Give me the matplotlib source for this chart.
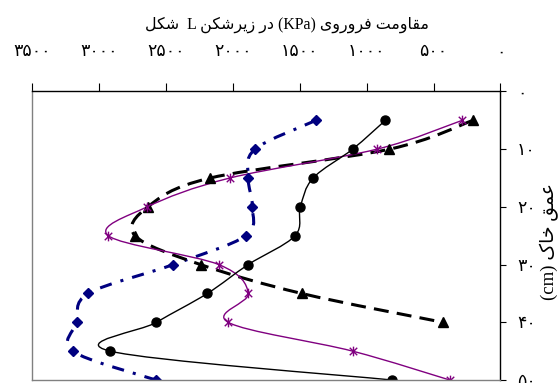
import numpy as np
import matplotlib
matplotlib.use('Agg')
import matplotlib.pyplot as plt
from matplotlib.path import Path
from matplotlib.patches import PathPatch

# soil depth (cm) for each reading
depth = [5, 10, 15, 20, 25, 30, 35, 40, 45, 50]

# cone index (KPa) per treatment
circle_kpa = [860, 1105, 1400, 1495, 1535, 1885, 2190, 2570, 2915, 810]
triangle_kpa = [205, 830, 2170, 2635, 2730, 2240, 1485, 430]
star_kpa = [286, 924, 2023, 2640, 2929, 2104, 1884, 2034, 1104, 379]
diamond_kpa = [1378, 1834, 1884, 1854, 1904, 2446, 3079, 3166, 3196, 2574]

x_ticks = [0, 500, 1000, 1500, 2000, 2500, 3000, 3500]
y_ticks = [0, 10, 20, 30, 40, 50]

title_text = 'مقاومت فروروی (KPa) در زیرشکن L  شکل'
ylabel_text = 'عمق خاک (cm)'

# arabic letter forms: isolated, final, initial, medial
FORMS = {
    'ا': ('\uFE8D', '\uFE8E', None, None),
    'د': ('\uFEA9', '\uFEAA', None, None),
    'ر': ('\uFEAD', '\uFEAE', None, None),
    'ز': ('\uFEAF', '\uFEB0', None, None),
    'و': ('\uFEED', '\uFEEE', None, None),
    'ت': ('\uFE95', '\uFE96', '\uFE97', '\uFE98'),
    'خ': ('\uFEA5', '\uFEA6', '\uFEA7', '\uFEA8'),
    'ش': ('\uFEB5', '\uFEB6', '\uFEB7', '\uFEB8'),
    'ع': ('\uFEC9', '\uFECA', '\uFECB', '\uFECC'),
    'ف': ('\uFED1', '\uFED2', '\uFED3', '\uFED4'),
    'ق': ('\uFED5', '\uFED6', '\uFED7', '\uFED8'),
    'ل': ('\uFEDD', '\uFEDE', '\uFEDF', '\uFEE0'),
    'م': ('\uFEE1', '\uFEE2', '\uFEE3', '\uFEE4'),
    'ن': ('\uFEE5', '\uFEE6', '\uFEE7', '\uFEE8'),
    'ی': ('\uFBFC', '\uFBFD', '\uFBFE', '\uFBFF'),
    'ک': ('\uFB8E', '\uFB8F', '\uFB90', '\uFB91'),
}


def shape_word(word):
    out = []
    for i, ch in enumerate(word):
        if ch not in FORMS:
            out.append(ch)
            continue
        iso, fin, ini, med = FORMS[ch]
        prev = word[i - 1] if i > 0 else None
        nxt = word[i + 1] if i + 1 < len(word) else None
        joins_prev = prev in FORMS and FORMS[prev][2] is not None
        joins_next = nxt in FORMS and ini is not None
        if joins_prev and joins_next:
            out.append(med)
        elif joins_prev:
            out.append(fin)
        elif joins_next:
            out.append(ini)
        else:
            out.append(iso)
    return ''.join(out)


def rtl(text):
    words = []
    for w in text.split(' '):
        if any(c in FORMS for c in w):
            words.append(shape_word(w)[::-1])
        else:
            words.append(w)
    return ' '.join(words[::-1])


def fa_digits(n):
    return str(n).translate(str.maketrans('0123456789', '۰۱۲۳۴۵۶۷۸۹'))


def smooth_path(x, y):
    # catmull-rom through the points, as bezier segments
    pts = np.column_stack([x, y]).astype(float)
    n = len(pts)
    verts = [pts[0]]
    codes = [Path.MOVETO]
    for i in range(n - 1):
        p0 = pts[max(i - 1, 0)]
        p1 = pts[i]
        p2 = pts[i + 1]
        p3 = pts[min(i + 2, n - 1)]
        verts += [p1 + (p2 - p0) / 6, p2 - (p3 - p1) / 6, p2]
        codes += [Path.CURVE4] * 3
    return Path(verts, codes)


plt.rcParams['font.family'] = ['Liberation Serif', 'DejaVu Sans']

asterisk = Path([(-1, -1), (1, 1), (-1, 1), (1, -1), (0, -1.3), (0, 1.3)],
                [Path.MOVETO, Path.LINETO] * 3)

fig = plt.figure(figsize=(5.59, 3.83), dpi=100)
ax = fig.add_axes([0.0572, 0.0078, 0.8381, 0.7533])

series = [
    (diamond_kpa, depth, '#000080', 2.2, (0, (4.0, 3.0, 1.0, 3.0)), 'D', 5.5),
    (triangle_kpa, depth[:8], 'black', 2.2, (0, (4.9, 2.7)), '^', 7),
    (star_kpa, depth, '#800080', 1.0, '-', asterisk, 7),
    (circle_kpa, depth, 'black', 1.0, '-', 'o', 6.5),
]

for xs, ys, color, lw, ls, marker, ms in series:
    ax.add_patch(PathPatch(smooth_path(xs, ys), fill=False, edgecolor=color,
                           lw=lw, linestyle=ls, capstyle='butt'))
    ax.plot(xs, ys, linestyle='none', marker=marker, markersize=ms,
            color=color, markeredgecolor=color, markeredgewidth=1)

ax.set_xlim(3500, 0)
ax.set_ylim(50, 0)

ax.xaxis.tick_top()
ax.yaxis.tick_right()
ax.set_xticks(x_ticks)
ax.set_xticklabels([fa_digits(v) for v in x_ticks])
ax.set_yticks(y_ticks)
ax.set_yticklabels([fa_digits(v) for v in y_ticks])
ax.tick_params(axis='x', direction='out', length=6, width=0.8, pad=16.5,
               labelsize=12.5)
ax.tick_params(axis='y', direction='out', length=4, width=0.8, pad=8,
               labelsize=12.5)
for lab in ax.get_yticklabels():
    lab.set_horizontalalignment('left')

for side in ['left', 'bottom']:
    ax.spines[side].set_color('#808080')
for side in ['top', 'right']:
    ax.spines[side].set_color('black')
for sp in ax.spines.values():
    sp.set_linewidth(1.0)

fig.text(287 / 559, 1 - 25 / 383, rtl(title_text), ha='center', va='center',
         fontsize=11.4)
fig.text(549 / 559, 1 - 242 / 383, rtl(ylabel_text), ha='center',
         va='center', rotation=90, fontsize=13.5)

fig.savefig('out.png', dpi=100)
